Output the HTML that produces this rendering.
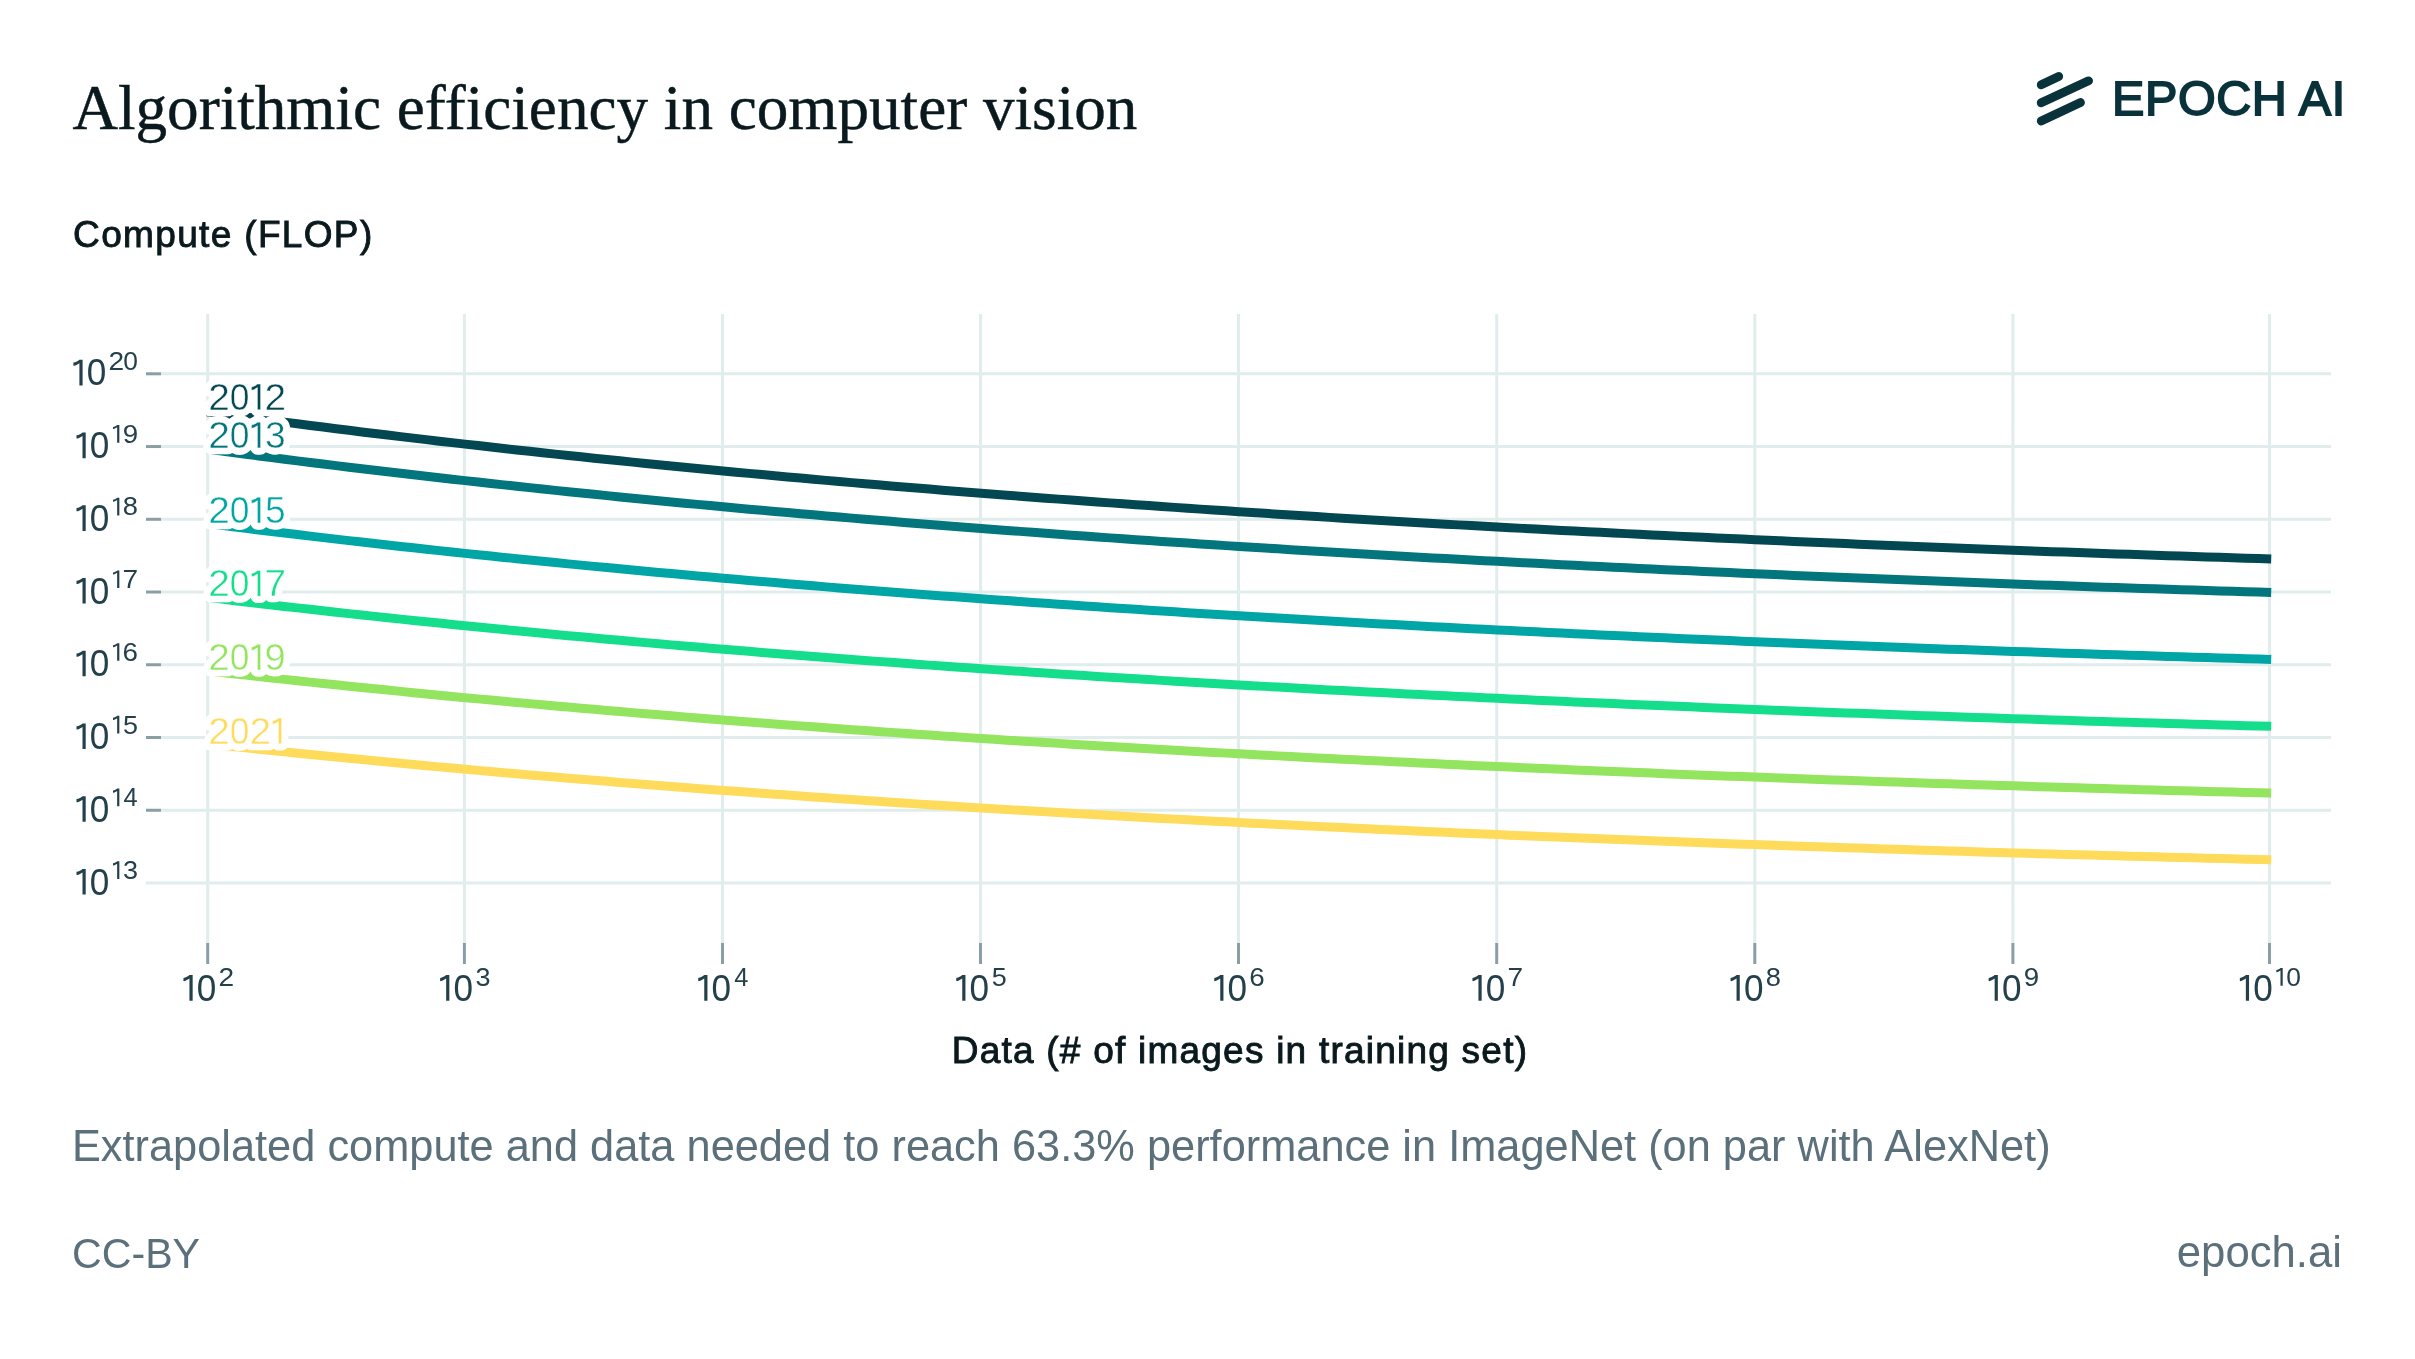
<!DOCTYPE html>
<html><head><meta charset="utf-8"><title>Algorithmic efficiency in computer vision</title><style>
html,body{margin:0;padding:0;background:#fff;width:2415px;height:1359px;overflow:hidden;position:relative}
text{white-space:pre}
.tl{font-family:"Liberation Sans",sans-serif;fill:#24404a}
.yl{font-family:"Liberation Sans",sans-serif;font-size:37px;stroke:#fff;stroke-width:13.5;stroke-linejoin:round;paint-order:stroke}
</style></head><body>
<svg width="2415" height="1359" viewBox="0 0 2415 1359" style="position:absolute;left:0;top:0;display:block;will-change:transform">
<rect width="2415" height="1359" fill="#fff"/>
<line x1="207.70" y1="314" x2="207.70" y2="943" stroke="#e1ecec" stroke-width="3"/>
<line x1="207.70" y1="943" x2="207.70" y2="964" stroke="#8a9ea6" stroke-width="3"/>
<line x1="464.40" y1="314" x2="464.40" y2="943" stroke="#e1ecec" stroke-width="3"/>
<line x1="464.40" y1="943" x2="464.40" y2="964" stroke="#8a9ea6" stroke-width="3"/>
<line x1="722.50" y1="314" x2="722.50" y2="943" stroke="#e1ecec" stroke-width="3"/>
<line x1="722.50" y1="943" x2="722.50" y2="964" stroke="#8a9ea6" stroke-width="3"/>
<line x1="980.50" y1="314" x2="980.50" y2="943" stroke="#e1ecec" stroke-width="3"/>
<line x1="980.50" y1="943" x2="980.50" y2="964" stroke="#8a9ea6" stroke-width="3"/>
<line x1="1238.50" y1="314" x2="1238.50" y2="943" stroke="#e1ecec" stroke-width="3"/>
<line x1="1238.50" y1="943" x2="1238.50" y2="964" stroke="#8a9ea6" stroke-width="3"/>
<line x1="1496.70" y1="314" x2="1496.70" y2="943" stroke="#e1ecec" stroke-width="3"/>
<line x1="1496.70" y1="943" x2="1496.70" y2="964" stroke="#8a9ea6" stroke-width="3"/>
<line x1="1754.80" y1="314" x2="1754.80" y2="943" stroke="#e1ecec" stroke-width="3"/>
<line x1="1754.80" y1="943" x2="1754.80" y2="964" stroke="#8a9ea6" stroke-width="3"/>
<line x1="2012.90" y1="314" x2="2012.90" y2="943" stroke="#e1ecec" stroke-width="3"/>
<line x1="2012.90" y1="943" x2="2012.90" y2="964" stroke="#8a9ea6" stroke-width="3"/>
<line x1="2269.50" y1="314" x2="2269.50" y2="943" stroke="#e1ecec" stroke-width="3"/>
<line x1="2269.50" y1="943" x2="2269.50" y2="964" stroke="#8a9ea6" stroke-width="3"/>
<line x1="161" y1="373.80" x2="2331" y2="373.80" stroke="#e1ecec" stroke-width="3"/>
<line x1="146" y1="373.80" x2="161" y2="373.80" stroke="#8a9ea6" stroke-width="3"/>
<line x1="161" y1="446.54" x2="2331" y2="446.54" stroke="#e1ecec" stroke-width="3"/>
<line x1="146" y1="446.54" x2="161" y2="446.54" stroke="#8a9ea6" stroke-width="3"/>
<line x1="161" y1="519.28" x2="2331" y2="519.28" stroke="#e1ecec" stroke-width="3"/>
<line x1="146" y1="519.28" x2="161" y2="519.28" stroke="#8a9ea6" stroke-width="3"/>
<line x1="161" y1="592.02" x2="2331" y2="592.02" stroke="#e1ecec" stroke-width="3"/>
<line x1="146" y1="592.02" x2="161" y2="592.02" stroke="#8a9ea6" stroke-width="3"/>
<line x1="161" y1="664.76" x2="2331" y2="664.76" stroke="#e1ecec" stroke-width="3"/>
<line x1="146" y1="664.76" x2="161" y2="664.76" stroke="#8a9ea6" stroke-width="3"/>
<line x1="161" y1="737.50" x2="2331" y2="737.50" stroke="#e1ecec" stroke-width="3"/>
<line x1="146" y1="737.50" x2="161" y2="737.50" stroke="#8a9ea6" stroke-width="3"/>
<line x1="161" y1="810.24" x2="2331" y2="810.24" stroke="#e1ecec" stroke-width="3"/>
<line x1="146" y1="810.24" x2="161" y2="810.24" stroke="#8a9ea6" stroke-width="3"/>
<line x1="146" y1="882.98" x2="2331" y2="882.98" stroke="#e1ecec" stroke-width="3"/>
<path d="M207.04,411.77 L219.94,413.53 L232.84,415.28 L245.74,417.02 L258.64,418.73 L271.55,420.44 L284.45,422.12 L297.35,423.79 L310.25,425.44 L323.15,427.08 L336.05,428.71 L348.95,430.31 L361.85,431.91 L374.75,433.48 L387.65,435.05 L400.56,436.60 L413.46,438.13 L426.36,439.65 L439.26,441.16 L452.16,442.65 L465.06,444.13 L477.96,445.59 L490.86,447.04 L503.76,448.48 L516.66,449.91 L529.57,451.32 L542.47,452.71 L555.37,454.10 L568.27,455.47 L581.17,456.83 L594.07,458.17 L606.97,459.51 L619.87,460.83 L632.77,462.14 L645.68,463.43 L658.58,464.72 L671.48,465.99 L684.38,467.25 L697.28,468.50 L710.18,469.74 L723.08,470.97 L735.98,472.18 L748.88,473.38 L761.78,474.58 L774.69,475.76 L787.59,476.93 L800.49,478.09 L813.39,479.23 L826.29,480.37 L839.19,481.50 L852.09,482.61 L864.99,483.72 L877.89,484.82 L890.79,485.90 L903.70,486.98 L916.60,488.04 L929.50,489.10 L942.40,490.14 L955.30,491.18 L968.20,492.21 L981.10,493.22 L994.00,494.23 L1006.90,495.23 L1019.81,496.22 L1032.71,497.20 L1045.61,498.17 L1058.51,499.13 L1071.41,500.08 L1084.31,501.02 L1097.21,501.96 L1110.11,502.88 L1123.01,503.80 L1135.91,504.71 L1148.82,505.61 L1161.72,506.50 L1174.62,507.38 L1187.52,508.26 L1200.42,509.13 L1213.32,509.99 L1226.22,510.84 L1239.12,511.68 L1252.02,512.52 L1264.92,513.34 L1277.83,514.16 L1290.73,514.98 L1303.63,515.78 L1316.53,516.58 L1329.43,517.37 L1342.33,518.15 L1355.23,518.92 L1368.13,519.69 L1381.03,520.45 L1393.93,521.21 L1406.84,521.95 L1419.74,522.69 L1432.64,523.43 L1445.54,524.15 L1458.44,524.87 L1471.34,525.58 L1484.24,526.29 L1497.14,526.99 L1510.04,527.68 L1522.95,528.37 L1535.85,529.05 L1548.75,529.72 L1561.65,530.39 L1574.55,531.05 L1587.45,531.71 L1600.35,532.35 L1613.25,533.00 L1626.15,533.63 L1639.05,534.26 L1651.96,534.89 L1664.86,535.51 L1677.76,536.12 L1690.66,536.73 L1703.56,537.33 L1716.46,537.93 L1729.36,538.52 L1742.26,539.10 L1755.16,539.68 L1768.06,540.26 L1780.97,540.83 L1793.87,541.39 L1806.77,541.95 L1819.67,542.50 L1832.57,543.05 L1845.47,543.60 L1858.37,544.13 L1871.27,544.67 L1884.17,545.20 L1897.08,545.72 L1909.98,546.24 L1922.88,546.75 L1935.78,547.26 L1948.68,547.76 L1961.58,548.26 L1974.48,548.76 L1987.38,549.25 L2000.28,549.73 L2013.18,550.21 L2026.09,550.69 L2038.99,551.16 L2051.89,551.63 L2064.79,552.09 L2077.69,552.55 L2090.59,553.01 L2103.49,553.46 L2116.39,553.90 L2129.29,554.35 L2142.19,554.78 L2155.10,555.22 L2168.00,555.65 L2180.90,556.07 L2193.80,556.50 L2206.70,556.91 L2219.60,557.33 L2232.50,557.74 L2245.40,558.14 L2258.30,558.55 L2271.21,558.95" fill="none" stroke="#034752" stroke-width="9" stroke-linejoin="round"/>
<path d="M207.04,449.13 L219.94,450.85 L232.84,452.56 L245.74,454.25 L258.64,455.92 L271.55,457.57 L284.45,459.22 L297.35,460.84 L310.25,462.45 L323.15,464.05 L336.05,465.63 L348.95,467.20 L361.85,468.75 L374.75,470.28 L387.65,471.81 L400.56,473.32 L413.46,474.81 L426.36,476.29 L439.26,477.76 L452.16,479.21 L465.06,480.65 L477.96,482.08 L490.86,483.49 L503.76,484.89 L516.66,486.28 L529.57,487.65 L542.47,489.01 L555.37,490.36 L568.27,491.70 L581.17,493.02 L594.07,494.33 L606.97,495.63 L619.87,496.92 L632.77,498.19 L645.68,499.46 L658.58,500.71 L671.48,501.95 L684.38,503.17 L697.28,504.39 L710.18,505.60 L723.08,506.79 L735.98,507.97 L748.88,509.15 L761.78,510.31 L774.69,511.46 L787.59,512.60 L800.49,513.72 L813.39,514.84 L826.29,515.95 L839.19,517.05 L852.09,518.14 L864.99,519.21 L877.89,520.28 L890.79,521.34 L903.70,522.39 L916.60,523.42 L929.50,524.45 L942.40,525.47 L955.30,526.48 L968.20,527.48 L981.10,528.47 L994.00,529.45 L1006.90,530.42 L1019.81,531.38 L1032.71,532.34 L1045.61,533.28 L1058.51,534.22 L1071.41,535.15 L1084.31,536.07 L1097.21,536.98 L1110.11,537.88 L1123.01,538.77 L1135.91,539.66 L1148.82,540.53 L1161.72,541.40 L1174.62,542.26 L1187.52,543.11 L1200.42,543.96 L1213.32,544.80 L1226.22,545.62 L1239.12,546.45 L1252.02,547.26 L1264.92,548.07 L1277.83,548.86 L1290.73,549.66 L1303.63,550.44 L1316.53,551.22 L1329.43,551.98 L1342.33,552.75 L1355.23,553.50 L1368.13,554.25 L1381.03,554.99 L1393.93,555.72 L1406.84,556.45 L1419.74,557.17 L1432.64,557.89 L1445.54,558.59 L1458.44,559.29 L1471.34,559.99 L1484.24,560.68 L1497.14,561.36 L1510.04,562.03 L1522.95,562.70 L1535.85,563.36 L1548.75,564.02 L1561.65,564.67 L1574.55,565.31 L1587.45,565.95 L1600.35,566.58 L1613.25,567.21 L1626.15,567.83 L1639.05,568.44 L1651.96,569.05 L1664.86,569.65 L1677.76,570.25 L1690.66,570.84 L1703.56,571.43 L1716.46,572.01 L1729.36,572.59 L1742.26,573.16 L1755.16,573.72 L1768.06,574.28 L1780.97,574.84 L1793.87,575.38 L1806.77,575.93 L1819.67,576.47 L1832.57,577.00 L1845.47,577.53 L1858.37,578.06 L1871.27,578.57 L1884.17,579.09 L1897.08,579.60 L1909.98,580.10 L1922.88,580.60 L1935.78,581.10 L1948.68,581.59 L1961.58,582.08 L1974.48,582.56 L1987.38,583.04 L2000.28,583.51 L2013.18,583.98 L2026.09,584.44 L2038.99,584.90 L2051.89,585.36 L2064.79,585.81 L2077.69,586.25 L2090.59,586.70 L2103.49,587.14 L2116.39,587.57 L2129.29,588.00 L2142.19,588.43 L2155.10,588.85 L2168.00,589.27 L2180.90,589.68 L2193.80,590.10 L2206.70,590.50 L2219.60,590.91 L2232.50,591.31 L2245.40,591.70 L2258.30,592.09 L2271.21,592.48" fill="none" stroke="#02767c" stroke-width="9" stroke-linejoin="round"/>
<path d="M207.04,523.48 L219.94,525.11 L232.84,526.73 L245.74,528.33 L258.64,529.92 L271.55,531.49 L284.45,533.05 L297.35,534.59 L310.25,536.12 L323.15,537.63 L336.05,539.13 L348.95,540.62 L361.85,542.09 L374.75,543.55 L387.65,544.99 L400.56,546.42 L413.46,547.84 L426.36,549.25 L439.26,550.64 L452.16,552.02 L465.06,553.38 L477.96,554.73 L490.86,556.07 L503.76,557.40 L516.66,558.72 L529.57,560.02 L542.47,561.31 L555.37,562.59 L568.27,563.86 L581.17,565.11 L594.07,566.36 L606.97,567.59 L619.87,568.81 L632.77,570.02 L645.68,571.22 L658.58,572.41 L671.48,573.58 L684.38,574.75 L697.28,575.90 L710.18,577.04 L723.08,578.18 L735.98,579.30 L748.88,580.41 L761.78,581.51 L774.69,582.60 L787.59,583.68 L800.49,584.76 L813.39,585.82 L826.29,586.87 L839.19,587.91 L852.09,588.94 L864.99,589.96 L877.89,590.97 L890.79,591.98 L903.70,592.97 L916.60,593.96 L929.50,594.93 L942.40,595.90 L955.30,596.85 L968.20,597.80 L981.10,598.74 L994.00,599.67 L1006.90,600.59 L1019.81,601.51 L1032.71,602.41 L1045.61,603.31 L1058.51,604.20 L1071.41,605.08 L1084.31,605.95 L1097.21,606.81 L1110.11,607.67 L1123.01,608.52 L1135.91,609.35 L1148.82,610.19 L1161.72,611.01 L1174.62,611.83 L1187.52,612.64 L1200.42,613.44 L1213.32,614.23 L1226.22,615.02 L1239.12,615.80 L1252.02,616.57 L1264.92,617.33 L1277.83,618.09 L1290.73,618.84 L1303.63,619.58 L1316.53,620.32 L1329.43,621.05 L1342.33,621.77 L1355.23,622.49 L1368.13,623.20 L1381.03,623.90 L1393.93,624.60 L1406.84,625.29 L1419.74,625.97 L1432.64,626.65 L1445.54,627.32 L1458.44,627.98 L1471.34,628.64 L1484.24,629.29 L1497.14,629.94 L1510.04,630.58 L1522.95,631.21 L1535.85,631.84 L1548.75,632.47 L1561.65,633.08 L1574.55,633.69 L1587.45,634.30 L1600.35,634.90 L1613.25,635.49 L1626.15,636.08 L1639.05,636.66 L1651.96,637.24 L1664.86,637.81 L1677.76,638.38 L1690.66,638.94 L1703.56,639.50 L1716.46,640.05 L1729.36,640.59 L1742.26,641.14 L1755.16,641.67 L1768.06,642.20 L1780.97,642.73 L1793.87,643.25 L1806.77,643.76 L1819.67,644.28 L1832.57,644.78 L1845.47,645.28 L1858.37,645.78 L1871.27,646.27 L1884.17,646.76 L1897.08,647.25 L1909.98,647.72 L1922.88,648.20 L1935.78,648.67 L1948.68,649.14 L1961.58,649.60 L1974.48,650.05 L1987.38,650.51 L2000.28,650.95 L2013.18,651.40 L2026.09,651.84 L2038.99,652.28 L2051.89,652.71 L2064.79,653.14 L2077.69,653.56 L2090.59,653.98 L2103.49,654.40 L2116.39,654.81 L2129.29,655.22 L2142.19,655.62 L2155.10,656.02 L2168.00,656.42 L2180.90,656.81 L2193.80,657.20 L2206.70,657.59 L2219.60,657.97 L2232.50,658.35 L2245.40,658.73 L2258.30,659.10 L2271.21,659.47" fill="none" stroke="#00a5a6" stroke-width="9" stroke-linejoin="round"/>
<path d="M207.04,597.34 L219.94,598.89 L232.84,600.42 L245.74,601.94 L258.64,603.45 L271.55,604.94 L284.45,606.42 L297.35,607.88 L310.25,609.33 L323.15,610.77 L336.05,612.19 L348.95,613.60 L361.85,614.99 L374.75,616.38 L387.65,617.75 L400.56,619.11 L413.46,620.45 L426.36,621.78 L439.26,623.10 L452.16,624.41 L465.06,625.71 L477.96,626.99 L490.86,628.26 L503.76,629.52 L516.66,630.77 L529.57,632.01 L542.47,633.23 L555.37,634.44 L568.27,635.65 L581.17,636.84 L594.07,638.02 L606.97,639.19 L619.87,640.34 L632.77,641.49 L645.68,642.63 L658.58,643.75 L671.48,644.87 L684.38,645.98 L697.28,647.07 L710.18,648.15 L723.08,649.23 L735.98,650.29 L748.88,651.35 L761.78,652.39 L774.69,653.43 L787.59,654.45 L800.49,655.47 L813.39,656.48 L826.29,657.47 L839.19,658.46 L852.09,659.44 L864.99,660.41 L877.89,661.37 L890.79,662.32 L903.70,663.26 L916.60,664.20 L929.50,665.12 L942.40,666.04 L955.30,666.95 L968.20,667.85 L981.10,668.74 L994.00,669.62 L1006.90,670.49 L1019.81,671.36 L1032.71,672.22 L1045.61,673.07 L1058.51,673.91 L1071.41,674.75 L1084.31,675.57 L1097.21,676.39 L1110.11,677.20 L1123.01,678.01 L1135.91,678.81 L1148.82,679.59 L1161.72,680.38 L1174.62,681.15 L1187.52,681.92 L1200.42,682.68 L1213.32,683.43 L1226.22,684.18 L1239.12,684.92 L1252.02,685.65 L1264.92,686.37 L1277.83,687.09 L1290.73,687.80 L1303.63,688.51 L1316.53,689.21 L1329.43,689.90 L1342.33,690.59 L1355.23,691.27 L1368.13,691.94 L1381.03,692.61 L1393.93,693.27 L1406.84,693.92 L1419.74,694.57 L1432.64,695.21 L1445.54,695.85 L1458.44,696.48 L1471.34,697.10 L1484.24,697.72 L1497.14,698.33 L1510.04,698.94 L1522.95,699.54 L1535.85,700.14 L1548.75,700.73 L1561.65,701.31 L1574.55,701.89 L1587.45,702.47 L1600.35,703.04 L1613.25,703.60 L1626.15,704.16 L1639.05,704.71 L1651.96,705.26 L1664.86,705.80 L1677.76,706.34 L1690.66,706.87 L1703.56,707.40 L1716.46,707.92 L1729.36,708.44 L1742.26,708.95 L1755.16,709.46 L1768.06,709.97 L1780.97,710.46 L1793.87,710.96 L1806.77,711.45 L1819.67,711.93 L1832.57,712.41 L1845.47,712.89 L1858.37,713.36 L1871.27,713.83 L1884.17,714.29 L1897.08,714.75 L1909.98,715.20 L1922.88,715.65 L1935.78,716.10 L1948.68,716.54 L1961.58,716.98 L1974.48,717.41 L1987.38,717.84 L2000.28,718.27 L2013.18,718.69 L2026.09,719.11 L2038.99,719.52 L2051.89,719.93 L2064.79,720.34 L2077.69,720.74 L2090.59,721.14 L2103.49,721.53 L2116.39,721.92 L2129.29,722.31 L2142.19,722.70 L2155.10,723.08 L2168.00,723.45 L2180.90,723.83 L2193.80,724.20 L2206.70,724.56 L2219.60,724.93 L2232.50,725.29 L2245.40,725.64 L2258.30,725.99 L2271.21,726.34" fill="none" stroke="#14de8c" stroke-width="9" stroke-linejoin="round"/>
<path d="M207.04,670.74 L219.94,672.21 L232.84,673.67 L245.74,675.11 L258.64,676.53 L271.55,677.95 L284.45,679.35 L297.35,680.74 L310.25,682.11 L323.15,683.47 L336.05,684.82 L348.95,686.16 L361.85,687.49 L374.75,688.80 L387.65,690.10 L400.56,691.39 L413.46,692.66 L426.36,693.93 L439.26,695.18 L452.16,696.42 L465.06,697.65 L477.96,698.87 L490.86,700.07 L503.76,701.27 L516.66,702.45 L529.57,703.62 L542.47,704.79 L555.37,705.94 L568.27,707.08 L581.17,708.21 L594.07,709.33 L606.97,710.44 L619.87,711.54 L632.77,712.62 L645.68,713.70 L658.58,714.77 L671.48,715.83 L684.38,716.88 L697.28,717.91 L710.18,718.94 L723.08,719.96 L735.98,720.97 L748.88,721.97 L761.78,722.96 L774.69,723.95 L787.59,724.92 L800.49,725.88 L813.39,726.84 L826.29,727.78 L839.19,728.72 L852.09,729.65 L864.99,730.57 L877.89,731.48 L890.79,732.38 L903.70,733.28 L916.60,734.16 L929.50,735.04 L942.40,735.91 L955.30,736.77 L968.20,737.62 L981.10,738.47 L994.00,739.31 L1006.90,740.14 L1019.81,740.96 L1032.71,741.77 L1045.61,742.58 L1058.51,743.38 L1071.41,744.17 L1084.31,744.96 L1097.21,745.73 L1110.11,746.50 L1123.01,747.26 L1135.91,748.02 L1148.82,748.77 L1161.72,749.51 L1174.62,750.25 L1187.52,750.97 L1200.42,751.69 L1213.32,752.41 L1226.22,753.12 L1239.12,753.82 L1252.02,754.51 L1264.92,755.20 L1277.83,755.88 L1290.73,756.56 L1303.63,757.23 L1316.53,757.89 L1329.43,758.55 L1342.33,759.20 L1355.23,759.84 L1368.13,760.48 L1381.03,761.11 L1393.93,761.74 L1406.84,762.36 L1419.74,762.97 L1432.64,763.58 L1445.54,764.19 L1458.44,764.79 L1471.34,765.38 L1484.24,765.96 L1497.14,766.55 L1510.04,767.12 L1522.95,767.69 L1535.85,768.26 L1548.75,768.82 L1561.65,769.37 L1574.55,769.92 L1587.45,770.47 L1600.35,771.01 L1613.25,771.54 L1626.15,772.07 L1639.05,772.60 L1651.96,773.11 L1664.86,773.63 L1677.76,774.14 L1690.66,774.65 L1703.56,775.15 L1716.46,775.64 L1729.36,776.13 L1742.26,776.62 L1755.16,777.10 L1768.06,777.58 L1780.97,778.05 L1793.87,778.52 L1806.77,778.99 L1819.67,779.45 L1832.57,779.90 L1845.47,780.35 L1858.37,780.80 L1871.27,781.24 L1884.17,781.68 L1897.08,782.12 L1909.98,782.55 L1922.88,782.98 L1935.78,783.40 L1948.68,783.82 L1961.58,784.23 L1974.48,784.65 L1987.38,785.05 L2000.28,785.46 L2013.18,785.86 L2026.09,786.25 L2038.99,786.65 L2051.89,787.03 L2064.79,787.42 L2077.69,787.80 L2090.59,788.18 L2103.49,788.55 L2116.39,788.93 L2129.29,789.29 L2142.19,789.66 L2155.10,790.02 L2168.00,790.38 L2180.90,790.73 L2193.80,791.08 L2206.70,791.43 L2219.60,791.77 L2232.50,792.11 L2245.40,792.45 L2258.30,792.79 L2271.21,793.12" fill="none" stroke="#93e45e" stroke-width="9" stroke-linejoin="round"/>
<path d="M207.04,743.70 L219.94,745.10 L232.84,746.48 L245.74,747.84 L258.64,749.20 L271.55,750.54 L284.45,751.87 L297.35,753.18 L310.25,754.49 L323.15,755.78 L336.05,757.06 L348.95,758.33 L361.85,759.59 L374.75,760.83 L387.65,762.06 L400.56,763.29 L413.46,764.50 L426.36,765.70 L439.26,766.88 L452.16,768.06 L465.06,769.23 L477.96,770.38 L490.86,771.53 L503.76,772.66 L516.66,773.78 L529.57,774.90 L542.47,776.00 L555.37,777.09 L568.27,778.17 L581.17,779.24 L594.07,780.31 L606.97,781.36 L619.87,782.40 L632.77,783.43 L645.68,784.46 L658.58,785.47 L671.48,786.47 L684.38,787.47 L697.28,788.45 L710.18,789.43 L723.08,790.40 L735.98,791.35 L748.88,792.30 L761.78,793.24 L774.69,794.17 L787.59,795.10 L800.49,796.01 L813.39,796.92 L826.29,797.81 L839.19,798.70 L852.09,799.58 L864.99,800.46 L877.89,801.32 L890.79,802.18 L903.70,803.03 L916.60,803.87 L929.50,804.70 L942.40,805.52 L955.30,806.34 L968.20,807.15 L981.10,807.95 L994.00,808.75 L1006.90,809.53 L1019.81,810.31 L1032.71,811.09 L1045.61,811.85 L1058.51,812.61 L1071.41,813.36 L1084.31,814.10 L1097.21,814.84 L1110.11,815.57 L1123.01,816.29 L1135.91,817.01 L1148.82,817.72 L1161.72,818.43 L1174.62,819.12 L1187.52,819.81 L1200.42,820.50 L1213.32,821.17 L1226.22,821.85 L1239.12,822.51 L1252.02,823.17 L1264.92,823.82 L1277.83,824.47 L1290.73,825.11 L1303.63,825.74 L1316.53,826.37 L1329.43,827.00 L1342.33,827.61 L1355.23,828.22 L1368.13,828.83 L1381.03,829.43 L1393.93,830.03 L1406.84,830.61 L1419.74,831.20 L1432.64,831.78 L1445.54,832.35 L1458.44,832.92 L1471.34,833.48 L1484.24,834.03 L1497.14,834.59 L1510.04,835.13 L1522.95,835.67 L1535.85,836.21 L1548.75,836.74 L1561.65,837.27 L1574.55,837.79 L1587.45,838.31 L1600.35,838.82 L1613.25,839.32 L1626.15,839.83 L1639.05,840.32 L1651.96,840.82 L1664.86,841.31 L1677.76,841.79 L1690.66,842.27 L1703.56,842.74 L1716.46,843.21 L1729.36,843.68 L1742.26,844.14 L1755.16,844.60 L1768.06,845.05 L1780.97,845.50 L1793.87,845.95 L1806.77,846.39 L1819.67,846.82 L1832.57,847.26 L1845.47,847.68 L1858.37,848.11 L1871.27,848.53 L1884.17,848.95 L1897.08,849.36 L1909.98,849.77 L1922.88,850.17 L1935.78,850.57 L1948.68,850.97 L1961.58,851.37 L1974.48,851.76 L1987.38,852.14 L2000.28,852.53 L2013.18,852.90 L2026.09,853.28 L2038.99,853.65 L2051.89,854.02 L2064.79,854.39 L2077.69,854.75 L2090.59,855.11 L2103.49,855.46 L2116.39,855.82 L2129.29,856.16 L2142.19,856.51 L2155.10,856.85 L2168.00,857.19 L2180.90,857.53 L2193.80,857.86 L2206.70,858.19 L2219.60,858.52 L2232.50,858.84 L2245.40,859.16 L2258.30,859.48 L2271.21,859.79" fill="none" stroke="#ffdb5c" stroke-width="9" stroke-linejoin="round"/>
<text transform="translate(208.25,409.80) scale(1.0645,1)" font-size="36.5" font-family="Liberation Sans, sans-serif" fill="#fff" stroke="#fff" stroke-width="12.68" stroke-linejoin="round">2</text>
<text transform="translate(229.82,409.80) scale(0.9686,1)" font-size="36.5" font-family="Liberation Sans, sans-serif" fill="#fff" stroke="#fff" stroke-width="13.94" stroke-linejoin="round">0</text>
<path transform="translate(251.40,409.80) scale(1.0)" d="M9.200,-25.700 L9.200,0 L6.000,0 L6.000,-22.200 C4.320,-21.300 2.280,-19.350 0,-19.700 L0,-22.800 C2.520,-23.300 4.500,-24.400 6.000,-25.700 Z" fill="#fff" stroke="#fff" stroke-width="13.50" stroke-linejoin="round"/>
<text transform="translate(264.45,409.80) scale(1.0645,1)" font-size="36.5" font-family="Liberation Sans, sans-serif" fill="#fff" stroke="#fff" stroke-width="12.68" stroke-linejoin="round">2</text>
<text transform="translate(208.25,409.80) scale(1.0645,1)" font-size="36.5" font-family="Liberation Sans, sans-serif" fill="#034752" stroke="#fff" stroke-width="0.47">2</text>
<text transform="translate(229.82,409.80) scale(0.9686,1)" font-size="36.5" font-family="Liberation Sans, sans-serif" fill="#034752" stroke="#fff" stroke-width="0.52">0</text>
<path transform="translate(251.40,409.80) scale(1.0)" d="M9.200,-25.700 L9.200,0 L6.000,0 L6.000,-22.200 C4.320,-21.300 2.280,-19.350 0,-19.700 L0,-22.800 C2.520,-23.300 4.500,-24.400 6.000,-25.700 Z" fill="#034752" stroke="#fff" stroke-width="0.5"/>
<text transform="translate(264.45,409.80) scale(1.0645,1)" font-size="36.5" font-family="Liberation Sans, sans-serif" fill="#034752" stroke="#fff" stroke-width="0.47">2</text>
<text transform="translate(208.25,447.90) scale(1.0645,1)" font-size="36.5" font-family="Liberation Sans, sans-serif" fill="#fff" stroke="#fff" stroke-width="12.68" stroke-linejoin="round">2</text>
<text transform="translate(229.82,447.90) scale(0.9686,1)" font-size="36.5" font-family="Liberation Sans, sans-serif" fill="#fff" stroke="#fff" stroke-width="13.94" stroke-linejoin="round">0</text>
<path transform="translate(251.40,447.90) scale(1.0)" d="M9.200,-25.700 L9.200,0 L6.000,0 L6.000,-22.200 C4.320,-21.300 2.280,-19.350 0,-19.700 L0,-22.800 C2.520,-23.300 4.500,-24.400 6.000,-25.700 Z" fill="#fff" stroke="#fff" stroke-width="13.50" stroke-linejoin="round"/>
<text transform="translate(264.99,447.90) scale(1.0170,1)" font-size="36.5" font-family="Liberation Sans, sans-serif" fill="#fff" stroke="#fff" stroke-width="13.27" stroke-linejoin="round">3</text>
<text transform="translate(208.25,447.90) scale(1.0645,1)" font-size="36.5" font-family="Liberation Sans, sans-serif" fill="#02767c" stroke="#fff" stroke-width="0.47">2</text>
<text transform="translate(229.82,447.90) scale(0.9686,1)" font-size="36.5" font-family="Liberation Sans, sans-serif" fill="#02767c" stroke="#fff" stroke-width="0.52">0</text>
<path transform="translate(251.40,447.90) scale(1.0)" d="M9.200,-25.700 L9.200,0 L6.000,0 L6.000,-22.200 C4.320,-21.300 2.280,-19.350 0,-19.700 L0,-22.800 C2.520,-23.300 4.500,-24.400 6.000,-25.700 Z" fill="#02767c" stroke="#fff" stroke-width="0.5"/>
<text transform="translate(264.99,447.90) scale(1.0170,1)" font-size="36.5" font-family="Liberation Sans, sans-serif" fill="#02767c" stroke="#fff" stroke-width="0.49">3</text>
<text transform="translate(208.25,522.90) scale(1.0645,1)" font-size="36.5" font-family="Liberation Sans, sans-serif" fill="#fff" stroke="#fff" stroke-width="12.68" stroke-linejoin="round">2</text>
<text transform="translate(229.82,522.90) scale(0.9686,1)" font-size="36.5" font-family="Liberation Sans, sans-serif" fill="#fff" stroke="#fff" stroke-width="13.94" stroke-linejoin="round">0</text>
<path transform="translate(251.40,522.90) scale(1.0)" d="M9.200,-25.700 L9.200,0 L6.000,0 L6.000,-22.200 C4.320,-21.300 2.280,-19.350 0,-19.700 L0,-22.800 C2.520,-23.300 4.500,-24.400 6.000,-25.700 Z" fill="#fff" stroke="#fff" stroke-width="13.50" stroke-linejoin="round"/>
<text transform="translate(264.91,522.90) scale(1.0170,1)" font-size="36.5" font-family="Liberation Sans, sans-serif" fill="#fff" stroke="#fff" stroke-width="13.27" stroke-linejoin="round">5</text>
<text transform="translate(208.25,522.90) scale(1.0645,1)" font-size="36.5" font-family="Liberation Sans, sans-serif" fill="#00a5a6" stroke="#fff" stroke-width="0.47">2</text>
<text transform="translate(229.82,522.90) scale(0.9686,1)" font-size="36.5" font-family="Liberation Sans, sans-serif" fill="#00a5a6" stroke="#fff" stroke-width="0.52">0</text>
<path transform="translate(251.40,522.90) scale(1.0)" d="M9.200,-25.700 L9.200,0 L6.000,0 L6.000,-22.200 C4.320,-21.300 2.280,-19.350 0,-19.700 L0,-22.800 C2.520,-23.300 4.500,-24.400 6.000,-25.700 Z" fill="#00a5a6" stroke="#fff" stroke-width="0.5"/>
<text transform="translate(264.91,522.90) scale(1.0170,1)" font-size="36.5" font-family="Liberation Sans, sans-serif" fill="#00a5a6" stroke="#fff" stroke-width="0.49">5</text>
<text transform="translate(208.25,596.30) scale(1.0645,1)" font-size="36.5" font-family="Liberation Sans, sans-serif" fill="#fff" stroke="#fff" stroke-width="12.68" stroke-linejoin="round">2</text>
<text transform="translate(229.82,596.30) scale(0.9686,1)" font-size="36.5" font-family="Liberation Sans, sans-serif" fill="#fff" stroke="#fff" stroke-width="13.94" stroke-linejoin="round">0</text>
<path transform="translate(251.40,596.30) scale(1.0)" d="M9.200,-25.700 L9.200,0 L6.000,0 L6.000,-22.200 C4.320,-21.300 2.280,-19.350 0,-19.700 L0,-22.800 C2.520,-23.300 4.500,-24.400 6.000,-25.700 Z" fill="#fff" stroke="#fff" stroke-width="13.50" stroke-linejoin="round"/>
<text transform="translate(264.42,596.30) scale(1.0607,1)" font-size="36.5" font-family="Liberation Sans, sans-serif" fill="#fff" stroke="#fff" stroke-width="12.73" stroke-linejoin="round">7</text>
<text transform="translate(208.25,596.30) scale(1.0645,1)" font-size="36.5" font-family="Liberation Sans, sans-serif" fill="#14de8c" stroke="#fff" stroke-width="0.47">2</text>
<text transform="translate(229.82,596.30) scale(0.9686,1)" font-size="36.5" font-family="Liberation Sans, sans-serif" fill="#14de8c" stroke="#fff" stroke-width="0.52">0</text>
<path transform="translate(251.40,596.30) scale(1.0)" d="M9.200,-25.700 L9.200,0 L6.000,0 L6.000,-22.200 C4.320,-21.300 2.280,-19.350 0,-19.700 L0,-22.800 C2.520,-23.300 4.500,-24.400 6.000,-25.700 Z" fill="#14de8c" stroke="#fff" stroke-width="0.5"/>
<text transform="translate(264.42,596.30) scale(1.0607,1)" font-size="36.5" font-family="Liberation Sans, sans-serif" fill="#14de8c" stroke="#fff" stroke-width="0.47">7</text>
<text transform="translate(208.25,670.00) scale(1.0645,1)" font-size="36.5" font-family="Liberation Sans, sans-serif" fill="#fff" stroke="#fff" stroke-width="12.68" stroke-linejoin="round">2</text>
<text transform="translate(229.82,670.00) scale(0.9686,1)" font-size="36.5" font-family="Liberation Sans, sans-serif" fill="#fff" stroke="#fff" stroke-width="13.94" stroke-linejoin="round">0</text>
<path transform="translate(251.40,670.00) scale(1.0)" d="M9.200,-25.700 L9.200,0 L6.000,0 L6.000,-22.200 C4.320,-21.300 2.280,-19.350 0,-19.700 L0,-22.800 C2.520,-23.300 4.500,-24.400 6.000,-25.700 Z" fill="#fff" stroke="#fff" stroke-width="13.50" stroke-linejoin="round"/>
<text transform="translate(264.61,670.00) scale(1.0439,1)" font-size="36.5" font-family="Liberation Sans, sans-serif" fill="#fff" stroke="#fff" stroke-width="12.93" stroke-linejoin="round">9</text>
<text transform="translate(208.25,670.00) scale(1.0645,1)" font-size="36.5" font-family="Liberation Sans, sans-serif" fill="#93e45e" stroke="#fff" stroke-width="0.47">2</text>
<text transform="translate(229.82,670.00) scale(0.9686,1)" font-size="36.5" font-family="Liberation Sans, sans-serif" fill="#93e45e" stroke="#fff" stroke-width="0.52">0</text>
<path transform="translate(251.40,670.00) scale(1.0)" d="M9.200,-25.700 L9.200,0 L6.000,0 L6.000,-22.200 C4.320,-21.300 2.280,-19.350 0,-19.700 L0,-22.800 C2.520,-23.300 4.500,-24.400 6.000,-25.700 Z" fill="#93e45e" stroke="#fff" stroke-width="0.5"/>
<text transform="translate(264.61,670.00) scale(1.0439,1)" font-size="36.5" font-family="Liberation Sans, sans-serif" fill="#93e45e" stroke="#fff" stroke-width="0.48">9</text>
<text transform="translate(208.25,743.80) scale(1.0645,1)" font-size="36.5" font-family="Liberation Sans, sans-serif" fill="#fff" stroke="#fff" stroke-width="12.68" stroke-linejoin="round">2</text>
<text transform="translate(229.82,743.80) scale(0.9686,1)" font-size="36.5" font-family="Liberation Sans, sans-serif" fill="#fff" stroke="#fff" stroke-width="13.94" stroke-linejoin="round">0</text>
<text transform="translate(249.45,743.80) scale(1.0645,1)" font-size="36.5" font-family="Liberation Sans, sans-serif" fill="#fff" stroke="#fff" stroke-width="12.68" stroke-linejoin="round">2</text>
<path transform="translate(272.40,743.80) scale(1.0)" d="M9.200,-25.700 L9.200,0 L6.000,0 L6.000,-22.200 C4.320,-21.300 2.280,-19.350 0,-19.700 L0,-22.800 C2.520,-23.300 4.500,-24.400 6.000,-25.700 Z" fill="#fff" stroke="#fff" stroke-width="13.50" stroke-linejoin="round"/>
<text transform="translate(208.25,743.80) scale(1.0645,1)" font-size="36.5" font-family="Liberation Sans, sans-serif" fill="#ffdb5c" stroke="#fff" stroke-width="0.47">2</text>
<text transform="translate(229.82,743.80) scale(0.9686,1)" font-size="36.5" font-family="Liberation Sans, sans-serif" fill="#ffdb5c" stroke="#fff" stroke-width="0.52">0</text>
<text transform="translate(249.45,743.80) scale(1.0645,1)" font-size="36.5" font-family="Liberation Sans, sans-serif" fill="#ffdb5c" stroke="#fff" stroke-width="0.47">2</text>
<path transform="translate(272.40,743.80) scale(1.0)" d="M9.200,-25.700 L9.200,0 L6.000,0 L6.000,-22.200 C4.320,-21.300 2.280,-19.350 0,-19.700 L0,-22.800 C2.520,-23.300 4.500,-24.400 6.000,-25.700 Z" fill="#ffdb5c" stroke="#fff" stroke-width="0.5"/>
<path transform="translate(73.40,385.40) scale(1.0)" d="M9.200,-25.700 L9.200,0 L6.000,0 L6.000,-22.200 C4.320,-21.300 2.280,-19.350 0,-19.700 L0,-22.800 C2.520,-23.300 4.500,-24.400 6.000,-25.700 Z" fill="#24404a"/>
<text transform="translate(86.73,385.40) scale(0.9629,1)" font-size="36.5" font-family="Liberation Sans, sans-serif" fill="#24404a">0</text>
<text transform="translate(108.49,369.90) scale(1.1239,1)" font-size="25.0" font-family="Liberation Sans, sans-serif" fill="#24404a">2</text>
<text transform="translate(123.17,369.90) scale(1.0543,1)" font-size="25.0" font-family="Liberation Sans, sans-serif" fill="#24404a">0</text>
<path transform="translate(76.50,458.14) scale(1.0)" d="M9.200,-25.700 L9.200,0 L6.000,0 L6.000,-22.200 C4.320,-21.300 2.280,-19.350 0,-19.700 L0,-22.800 C2.520,-23.300 4.500,-24.400 6.000,-25.700 Z" fill="#24404a"/>
<text transform="translate(89.83,458.14) scale(0.9629,1)" font-size="36.5" font-family="Liberation Sans, sans-serif" fill="#24404a">0</text>
<path transform="translate(113.00,442.64) scale(0.69)" d="M9.200,-25.700 L9.200,0 L6.000,0 L6.000,-22.200 C4.320,-21.300 2.280,-19.350 0,-19.700 L0,-22.800 C2.520,-23.300 4.500,-24.400 6.000,-25.700 Z" fill="#24404a"/>
<text transform="translate(122.70,442.64) scale(1.1084,1)" font-size="25.0" font-family="Liberation Sans, sans-serif" fill="#24404a">9</text>
<path transform="translate(76.50,530.88) scale(1.0)" d="M9.200,-25.700 L9.200,0 L6.000,0 L6.000,-22.200 C4.320,-21.300 2.280,-19.350 0,-19.700 L0,-22.800 C2.520,-23.300 4.500,-24.400 6.000,-25.700 Z" fill="#24404a"/>
<text transform="translate(89.83,530.88) scale(0.9629,1)" font-size="36.5" font-family="Liberation Sans, sans-serif" fill="#24404a">0</text>
<path transform="translate(113.00,515.38) scale(0.69)" d="M9.200,-25.700 L9.200,0 L6.000,0 L6.000,-22.200 C4.320,-21.300 2.280,-19.350 0,-19.700 L0,-22.800 C2.520,-23.300 4.500,-24.400 6.000,-25.700 Z" fill="#24404a"/>
<text transform="translate(122.81,515.38) scale(1.0911,1)" font-size="25.0" font-family="Liberation Sans, sans-serif" fill="#24404a">8</text>
<path transform="translate(76.50,603.62) scale(1.0)" d="M9.200,-25.700 L9.200,0 L6.000,0 L6.000,-22.200 C4.320,-21.300 2.280,-19.350 0,-19.700 L0,-22.800 C2.520,-23.300 4.500,-24.400 6.000,-25.700 Z" fill="#24404a"/>
<text transform="translate(89.83,603.62) scale(0.9629,1)" font-size="36.5" font-family="Liberation Sans, sans-serif" fill="#24404a">0</text>
<path transform="translate(113.00,588.12) scale(0.69)" d="M9.200,-25.700 L9.200,0 L6.000,0 L6.000,-22.200 C4.320,-21.300 2.280,-19.350 0,-19.700 L0,-22.800 C2.520,-23.300 4.500,-24.400 6.000,-25.700 Z" fill="#24404a"/>
<text transform="translate(122.56,588.12) scale(1.1263,1)" font-size="25.0" font-family="Liberation Sans, sans-serif" fill="#24404a">7</text>
<path transform="translate(76.50,676.36) scale(1.0)" d="M9.200,-25.700 L9.200,0 L6.000,0 L6.000,-22.200 C4.320,-21.300 2.280,-19.350 0,-19.700 L0,-22.800 C2.520,-23.300 4.500,-24.400 6.000,-25.700 Z" fill="#24404a"/>
<text transform="translate(89.83,676.36) scale(0.9629,1)" font-size="36.5" font-family="Liberation Sans, sans-serif" fill="#24404a">0</text>
<path transform="translate(113.00,660.86) scale(0.69)" d="M9.200,-25.700 L9.200,0 L6.000,0 L6.000,-22.200 C4.320,-21.300 2.280,-19.350 0,-19.700 L0,-22.800 C2.520,-23.300 4.500,-24.400 6.000,-25.700 Z" fill="#24404a"/>
<text transform="translate(122.59,660.86) scale(1.1096,1)" font-size="25.0" font-family="Liberation Sans, sans-serif" fill="#24404a">6</text>
<path transform="translate(76.50,749.10) scale(1.0)" d="M9.200,-25.700 L9.200,0 L6.000,0 L6.000,-22.200 C4.320,-21.300 2.280,-19.350 0,-19.700 L0,-22.800 C2.520,-23.300 4.500,-24.400 6.000,-25.700 Z" fill="#24404a"/>
<text transform="translate(89.83,749.10) scale(0.9629,1)" font-size="36.5" font-family="Liberation Sans, sans-serif" fill="#24404a">0</text>
<path transform="translate(113.00,733.60) scale(0.69)" d="M9.200,-25.700 L9.200,0 L6.000,0 L6.000,-22.200 C4.320,-21.300 2.280,-19.350 0,-19.700 L0,-22.800 C2.520,-23.300 4.500,-24.400 6.000,-25.700 Z" fill="#24404a"/>
<text transform="translate(122.92,733.60) scale(1.0799,1)" font-size="25.0" font-family="Liberation Sans, sans-serif" fill="#24404a">5</text>
<path transform="translate(76.50,821.84) scale(1.0)" d="M9.200,-25.700 L9.200,0 L6.000,0 L6.000,-22.200 C4.320,-21.300 2.280,-19.350 0,-19.700 L0,-22.800 C2.520,-23.300 4.500,-24.400 6.000,-25.700 Z" fill="#24404a"/>
<text transform="translate(89.83,821.84) scale(0.9629,1)" font-size="36.5" font-family="Liberation Sans, sans-serif" fill="#24404a">0</text>
<path transform="translate(113.00,806.34) scale(0.69)" d="M9.200,-25.700 L9.200,0 L6.000,0 L6.000,-22.200 C4.320,-21.300 2.280,-19.350 0,-19.700 L0,-22.800 C2.520,-23.300 4.500,-24.400 6.000,-25.700 Z" fill="#24404a"/>
<text transform="translate(123.42,806.34) scale(1.0161,1)" font-size="25.0" font-family="Liberation Sans, sans-serif" fill="#24404a">4</text>
<path transform="translate(76.50,894.58) scale(1.0)" d="M9.200,-25.700 L9.200,0 L6.000,0 L6.000,-22.200 C4.320,-21.300 2.280,-19.350 0,-19.700 L0,-22.800 C2.520,-23.300 4.500,-24.400 6.000,-25.700 Z" fill="#24404a"/>
<text transform="translate(89.83,894.58) scale(0.9629,1)" font-size="36.5" font-family="Liberation Sans, sans-serif" fill="#24404a">0</text>
<path transform="translate(113.00,879.08) scale(0.69)" d="M9.200,-25.700 L9.200,0 L6.000,0 L6.000,-22.200 C4.320,-21.300 2.280,-19.350 0,-19.700 L0,-22.800 C2.520,-23.300 4.500,-24.400 6.000,-25.700 Z" fill="#24404a"/>
<text transform="translate(122.97,879.08) scale(1.0799,1)" font-size="25.0" font-family="Liberation Sans, sans-serif" fill="#24404a">3</text>
<path transform="translate(183.45,1000.80) scale(1.0)" d="M9.200,-25.700 L9.200,0 L6.000,0 L6.000,-22.200 C4.320,-21.300 2.280,-19.350 0,-19.700 L0,-22.800 C2.520,-23.300 4.500,-24.400 6.000,-25.700 Z" fill="#24404a"/>
<text transform="translate(196.78,1000.80) scale(0.9629,1)" font-size="36.5" font-family="Liberation Sans, sans-serif" fill="#24404a">0</text>
<text transform="translate(218.54,985.80) scale(1.1239,1)" font-size="25.0" font-family="Liberation Sans, sans-serif" fill="#24404a">2</text>
<path transform="translate(440.15,1000.80) scale(1.0)" d="M9.200,-25.700 L9.200,0 L6.000,0 L6.000,-22.200 C4.320,-21.300 2.280,-19.350 0,-19.700 L0,-22.800 C2.520,-23.300 4.500,-24.400 6.000,-25.700 Z" fill="#24404a"/>
<text transform="translate(453.48,1000.80) scale(0.9629,1)" font-size="36.5" font-family="Liberation Sans, sans-serif" fill="#24404a">0</text>
<text transform="translate(475.62,985.80) scale(1.0799,1)" font-size="25.0" font-family="Liberation Sans, sans-serif" fill="#24404a">3</text>
<path transform="translate(698.25,1000.80) scale(1.0)" d="M9.200,-25.700 L9.200,0 L6.000,0 L6.000,-22.200 C4.320,-21.300 2.280,-19.350 0,-19.700 L0,-22.800 C2.520,-23.300 4.500,-24.400 6.000,-25.700 Z" fill="#24404a"/>
<text transform="translate(711.58,1000.80) scale(0.9629,1)" font-size="36.5" font-family="Liberation Sans, sans-serif" fill="#24404a">0</text>
<text transform="translate(734.17,985.80) scale(1.0161,1)" font-size="25.0" font-family="Liberation Sans, sans-serif" fill="#24404a">4</text>
<path transform="translate(956.25,1000.80) scale(1.0)" d="M9.200,-25.700 L9.200,0 L6.000,0 L6.000,-22.200 C4.320,-21.300 2.280,-19.350 0,-19.700 L0,-22.800 C2.520,-23.300 4.500,-24.400 6.000,-25.700 Z" fill="#24404a"/>
<text transform="translate(969.58,1000.80) scale(0.9629,1)" font-size="36.5" font-family="Liberation Sans, sans-serif" fill="#24404a">0</text>
<text transform="translate(991.67,985.80) scale(1.0799,1)" font-size="25.0" font-family="Liberation Sans, sans-serif" fill="#24404a">5</text>
<path transform="translate(1214.25,1000.80) scale(1.0)" d="M9.200,-25.700 L9.200,0 L6.000,0 L6.000,-22.200 C4.320,-21.300 2.280,-19.350 0,-19.700 L0,-22.800 C2.520,-23.300 4.500,-24.400 6.000,-25.700 Z" fill="#24404a"/>
<text transform="translate(1227.58,1000.80) scale(0.9629,1)" font-size="36.5" font-family="Liberation Sans, sans-serif" fill="#24404a">0</text>
<text transform="translate(1249.34,985.80) scale(1.1096,1)" font-size="25.0" font-family="Liberation Sans, sans-serif" fill="#24404a">6</text>
<path transform="translate(1472.45,1000.80) scale(1.0)" d="M9.200,-25.700 L9.200,0 L6.000,0 L6.000,-22.200 C4.320,-21.300 2.280,-19.350 0,-19.700 L0,-22.800 C2.520,-23.300 4.500,-24.400 6.000,-25.700 Z" fill="#24404a"/>
<text transform="translate(1485.78,1000.80) scale(0.9629,1)" font-size="36.5" font-family="Liberation Sans, sans-serif" fill="#24404a">0</text>
<text transform="translate(1507.51,985.80) scale(1.1263,1)" font-size="25.0" font-family="Liberation Sans, sans-serif" fill="#24404a">7</text>
<path transform="translate(1730.55,1000.80) scale(1.0)" d="M9.200,-25.700 L9.200,0 L6.000,0 L6.000,-22.200 C4.320,-21.300 2.280,-19.350 0,-19.700 L0,-22.800 C2.520,-23.300 4.500,-24.400 6.000,-25.700 Z" fill="#24404a"/>
<text transform="translate(1743.88,1000.80) scale(0.9629,1)" font-size="36.5" font-family="Liberation Sans, sans-serif" fill="#24404a">0</text>
<text transform="translate(1765.86,985.80) scale(1.0911,1)" font-size="25.0" font-family="Liberation Sans, sans-serif" fill="#24404a">8</text>
<path transform="translate(1988.65,1000.80) scale(1.0)" d="M9.200,-25.700 L9.200,0 L6.000,0 L6.000,-22.200 C4.320,-21.300 2.280,-19.350 0,-19.700 L0,-22.800 C2.520,-23.300 4.500,-24.400 6.000,-25.700 Z" fill="#24404a"/>
<text transform="translate(2001.98,1000.80) scale(0.9629,1)" font-size="36.5" font-family="Liberation Sans, sans-serif" fill="#24404a">0</text>
<text transform="translate(2023.85,985.80) scale(1.1084,1)" font-size="25.0" font-family="Liberation Sans, sans-serif" fill="#24404a">9</text>
<path transform="translate(2239.85,1000.80) scale(1.0)" d="M9.200,-25.700 L9.200,0 L6.000,0 L6.000,-22.200 C4.320,-21.300 2.280,-19.350 0,-19.700 L0,-22.800 C2.520,-23.300 4.500,-24.400 6.000,-25.700 Z" fill="#24404a"/>
<text transform="translate(2253.18,1000.80) scale(0.9629,1)" font-size="36.5" font-family="Liberation Sans, sans-serif" fill="#24404a">0</text>
<path transform="translate(2276.35,985.80) scale(0.69)" d="M9.200,-25.700 L9.200,0 L6.000,0 L6.000,-22.200 C4.320,-21.300 2.280,-19.350 0,-19.700 L0,-22.800 C2.520,-23.300 4.500,-24.400 6.000,-25.700 Z" fill="#24404a"/>
<text transform="translate(2286.32,985.80) scale(1.0543,1)" font-size="25.0" font-family="Liberation Sans, sans-serif" fill="#24404a">0</text>
<text transform="translate(72.4,129) scale(1,1)" font-family="Liberation Serif, sans-serif" font-size="63.15" font-weight="400" fill="#0a191d" text-anchor="start" letter-spacing="0" stroke="#0a191d" stroke-width="0.45">Algorithmic efficiency in computer vision</text>
<text transform="translate(2112,115.4) scale(1,1)" font-family="Liberation Sans, sans-serif" font-size="48.5" font-weight="400" fill="#0a323b" text-anchor="start" letter-spacing="0.6" stroke="#0a323b" stroke-width="1.8">EPOCH AI</text>
<text transform="translate(73.1,246.6) scale(1,1)" font-family="Liberation Sans, sans-serif" font-size="37" font-weight="400" fill="#0a191d" text-anchor="start" letter-spacing="1.34" stroke="#0a191d" stroke-width="0.9">Compute (FLOP)</text>
<text transform="translate(951.7,1063) scale(1,1)" font-family="Liberation Sans, sans-serif" font-size="37" font-weight="400" fill="#0a191d" text-anchor="start" letter-spacing="1.23" stroke="#0a191d" stroke-width="0.9">Data (# of images in training set)</text>
<text transform="translate(71.9,1161) scale(0.968,1)" font-family="Liberation Sans, sans-serif" font-size="44.8" font-weight="400" fill="#5b707a" text-anchor="start" letter-spacing="0" >Extrapolated compute and data needed to reach 63.3% performance in ImageNet (on par with AlexNet)</text>
<text transform="translate(72,1268) scale(0.98,1)" font-family="Liberation Sans, sans-serif" font-size="42" font-weight="400" fill="#5b707a" text-anchor="start" letter-spacing="0" >CC-BY</text>
<text transform="translate(2342,1267) scale(1,1)" font-family="Liberation Sans, sans-serif" font-size="43.7" font-weight="400" fill="#5b707a" text-anchor="end" letter-spacing="0" >epoch.ai</text>
<g stroke="#0a323b" stroke-width="8.8" stroke-linecap="round">
<line x1="2041.2" y1="84.8" x2="2058.7" y2="76.5"/>
<line x1="2041.2" y1="102.8" x2="2088.6" y2="80.8"/>
<line x1="2041.2" y1="121" x2="2080.5" y2="102.5"/>
</g>
</svg>
</body></html>
